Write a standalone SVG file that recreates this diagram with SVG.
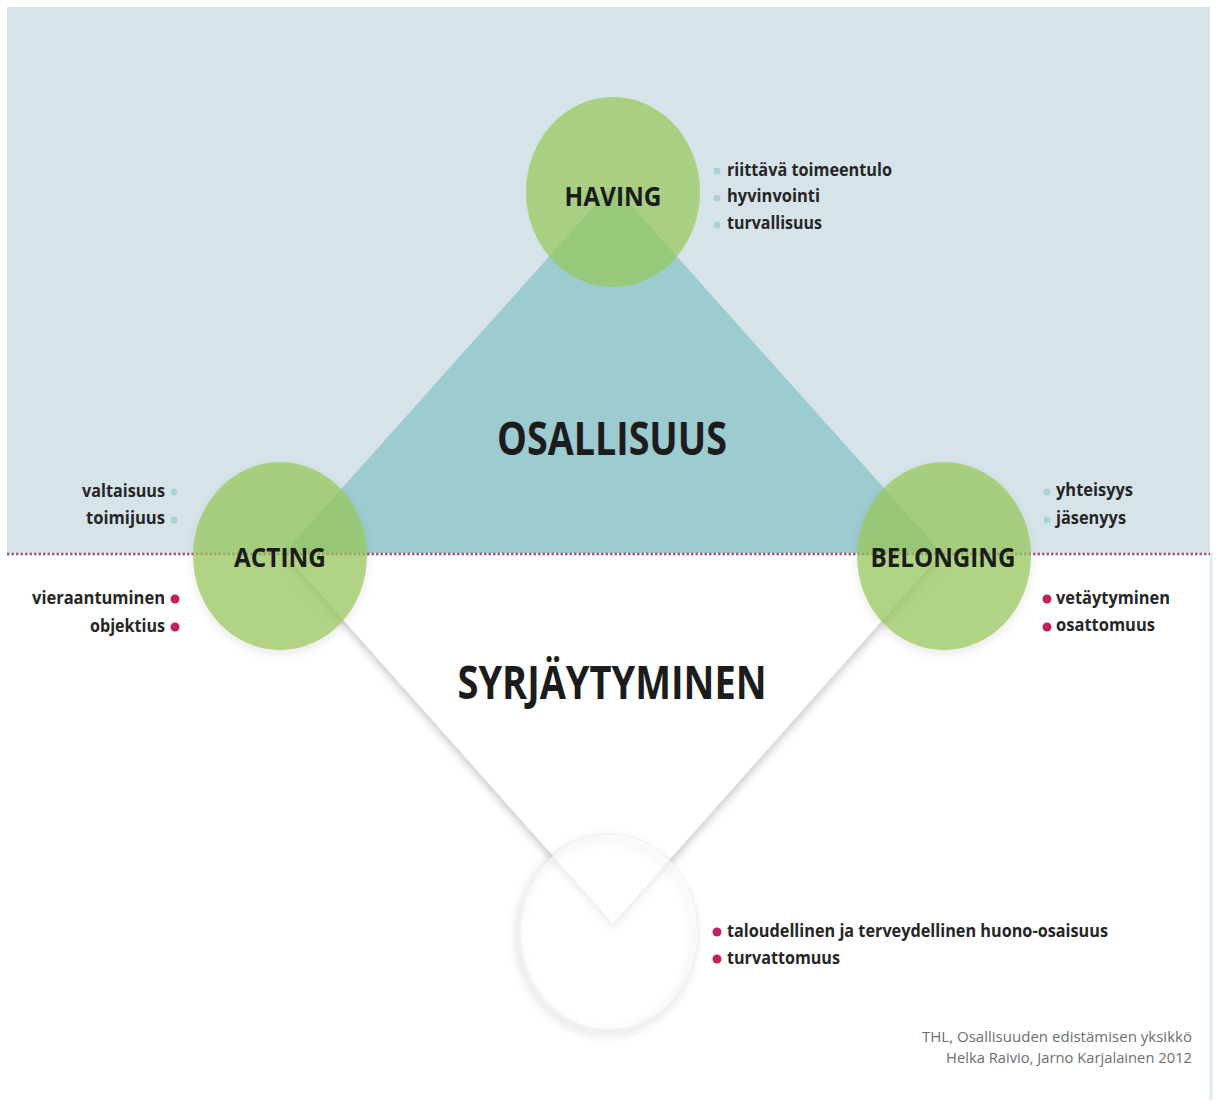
<svg xmlns="http://www.w3.org/2000/svg" width="1216" height="1102" viewBox="0 0 1216 1102">
  <style>
    .lbl { font-family: "Open Sans", "Liberation Sans", sans-serif; font-weight: 700; fill: #1c1c1c; }
    .big { font-size: 46px; }
    .node { font-size: 27px; }
    .item { font-family: "Open Sans", "Liberation Sans", sans-serif; font-weight: 700; font-size: 18px; fill: #262626; }
    .foot { font-family: "Open Sans", "Liberation Sans", sans-serif; font-size: 14px; fill: #6e6e6e; }
    .green { fill: #97c85a; fill-opacity: 0.72; }
    .bt { fill: #a9d2d5; }
    .bm { fill: #c2215e; }
  </style>
  <defs>
    <filter id="sh" x="-20%" y="-20%" width="140%" height="140%">
      <feDropShadow dx="0" dy="4" stdDeviation="5" flood-color="#000" flood-opacity="0.24"/>
    </filter>
    <filter id="blur" x="-20%" y="-20%" width="140%" height="140%">
      <feGaussianBlur stdDeviation="4"/>
    </filter>
    <filter id="shg" x="-20%" y="-20%" width="140%" height="140%">
      <feDropShadow dx="0" dy="4" stdDeviation="5" flood-color="#000" flood-opacity="0.12"/>
    </filter>
  </defs>

  <rect x="0" y="0" width="1216" height="1102" fill="#ffffff"/>
  <rect x="1209" y="553" width="4" height="547" fill="#e3eef2"/>

  <!-- lower diamond (SYRJÄYTYMINEN) -->
  <g id="lower-diamond">
    <polygon points="284,553 613,923 942,553" fill="#ffffff" filter="url(#sh)"/>
  </g>

  <!-- bottom empty circle -->
  <g id="bottom-circle">
    <ellipse cx="606" cy="936" rx="88" ry="97" fill="none" stroke="#000" stroke-opacity="0.14" stroke-width="5" filter="url(#blur)"/>
    <ellipse cx="609" cy="932" rx="89" ry="98" fill="#ffffff" fill-opacity="0.6" stroke="#f0f0f0" stroke-width="1"/>
  </g>

  <!-- top panel -->
  <rect x="7" y="7" width="1203" height="546" fill="#d6e4ea"/>

  <g id="upper-triangle">
    <polygon points="613,185 284,553 942,553" fill="#9ccbd0"/>
  </g>

  <g id="connectors">
    <line x1="7" y1="554" x2="1210" y2="554" stroke="#a64f80" stroke-width="2.5" stroke-dasharray="2.5 2"/>
  </g>

  <g id="having">
    <ellipse class="green" cx="613" cy="192" rx="87" ry="95"/>
    <text class="lbl node" x="613" y="206" text-anchor="middle" textLength="97" lengthAdjust="spacingAndGlyphs">HAVING</text>
  </g>
  <g id="acting">
    <ellipse class="green" cx="280" cy="556" rx="87" ry="94" filter="url(#shg)"/>
    <text class="lbl node" x="280" y="567" text-anchor="middle" textLength="92" lengthAdjust="spacingAndGlyphs">ACTING</text>
  </g>
  <g id="belonging">
    <ellipse class="green" cx="944" cy="556" rx="87" ry="94" filter="url(#shg)"/>
    <text class="lbl node" x="943" y="567" text-anchor="middle" textLength="145" lengthAdjust="spacingAndGlyphs">BELONGING</text>
  </g>

  <g id="osallisuus">
    <text class="lbl big" x="612" y="455" text-anchor="middle" textLength="230" lengthAdjust="spacingAndGlyphs">OSALLISUUS</text>
  </g>
  <g id="syrjaytyminen">
    <text class="lbl big" x="612" y="699" text-anchor="middle" textLength="309" lengthAdjust="spacingAndGlyphs">SYRJÄYTYMINEN</text>
  </g>

  <g id="having-list">
    <circle class="bt" cx="717" cy="171" r="3.5"/>
    <circle class="bt" cx="717" cy="198" r="3.5"/>
    <circle class="bt" cx="717" cy="225" r="3.5"/>
    <text class="item" x="727" y="176" textLength="165" lengthAdjust="spacingAndGlyphs">riittävä toimeentulo</text>
    <text class="item" x="727" y="202" textLength="93" lengthAdjust="spacingAndGlyphs">hyvinvointi</text>
    <text class="item" x="727" y="229" textLength="95" lengthAdjust="spacingAndGlyphs">turvallisuus</text>
  </g>

  <g id="acting-list">
    <circle class="bt" cx="174" cy="492" r="3.5"/>
    <circle class="bt" cx="174" cy="520" r="3.5"/>
    <text class="item" x="165" y="497" text-anchor="end" textLength="83" lengthAdjust="spacingAndGlyphs">valtaisuus</text>
    <text class="item" x="165" y="524" text-anchor="end" textLength="79" lengthAdjust="spacingAndGlyphs">toimijuus</text>
    <circle class="bm" cx="175" cy="599" r="4.5"/>
    <circle class="bm" cx="175" cy="627" r="4.5"/>
    <text class="item" x="165" y="604" text-anchor="end" textLength="133" lengthAdjust="spacingAndGlyphs">vieraantuminen</text>
    <text class="item" x="165" y="632" text-anchor="end" textLength="75" lengthAdjust="spacingAndGlyphs">objektius</text>
  </g>

  <g id="belonging-list">
    <circle class="bt" cx="1047" cy="492" r="3.5"/>
    <circle class="bt" cx="1047" cy="520" r="3.5"/>
    <text class="item" x="1056" y="496" textLength="77" lengthAdjust="spacingAndGlyphs">yhteisyys</text>
    <text class="item" x="1056" y="524" textLength="70" lengthAdjust="spacingAndGlyphs">jäsenyys</text>
    <circle class="bm" cx="1047" cy="599" r="4.5"/>
    <circle class="bm" cx="1047" cy="627" r="4.5"/>
    <text class="item" x="1056" y="604" textLength="114" lengthAdjust="spacingAndGlyphs">vetäytyminen</text>
    <text class="item" x="1056" y="631" textLength="99" lengthAdjust="spacingAndGlyphs">osattomuus</text>
  </g>

  <g id="bottom-list">
    <circle class="bm" cx="717" cy="932" r="4.5"/>
    <circle class="bm" cx="717" cy="959" r="4.5"/>
    <text class="item" x="727" y="937" textLength="381" lengthAdjust="spacingAndGlyphs">taloudellinen ja terveydellinen huono-osaisuus</text>
    <text class="item" x="727" y="964" textLength="113" lengthAdjust="spacingAndGlyphs">turvattomuus</text>
  </g>

  <g id="footer">
    <text class="foot" x="1192" y="1042" text-anchor="end" textLength="270" lengthAdjust="spacingAndGlyphs">THL, Osallisuuden edistämisen yksikkö</text>
    <text class="foot" x="1192" y="1063" text-anchor="end" textLength="246" lengthAdjust="spacingAndGlyphs">Helka Raivio, Jarno Karjalainen 2012</text>
  </g>
</svg>
